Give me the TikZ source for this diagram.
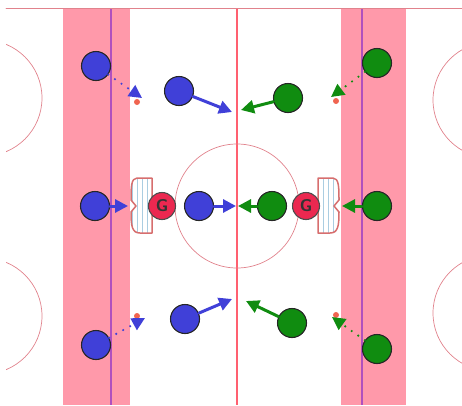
\documentclass[tikz,border=0pt]{standalone}
\usepackage{tikz}
\usetikzlibrary{arrows.meta,positioning}
\definecolor{teamblue}{RGB}{64,64,216}
\definecolor{teamgreen}{RGB}{16,140,16}
\definecolor{rinkpink}{RGB}{255,153,170}
\definecolor{bluelinepurple}{RGB}{176,80,190}
\definecolor{centrered}{RGB}{255,96,112}
\definecolor{goaliered}{RGB}{235,40,80}
\definecolor{faceoffred}{RGB}{225,130,140}
\definecolor{netred}{RGB}{215,110,110}
\definecolor{netgrid}{RGB}{170,205,225}
\definecolor{puckred}{RGB}{240,100,80}
\tikzset{
  every picture/.append style={line cap=round,line join=round},
  blue skater/.style={circle,fill=teamblue,draw=black!85,line width=1.1pt,minimum size=29pt,inner sep=0pt},
  green skater/.style={circle,fill=teamgreen,draw=black!85,line width=1.1pt,minimum size=29pt,inner sep=0pt},
  goalie/.style={circle,fill=goaliered,draw=black!70,line width=1.1pt,minimum size=27pt,inner sep=0pt,
    font=\sffamily\bfseries\fontsize{17}{17}\selectfont,text=black!80},
  blue skate/.style={teamblue,line width=3pt,-{Triangle[length=13pt,width=13pt]}},
  green skate/.style={teamgreen,line width=3pt,-{Triangle[length=13pt,width=13pt]}},
  blue pass/.style={teamblue,line width=2.4pt,dash pattern=on 0pt off 8pt,-{Triangle[length=13pt,width=13pt]}},
  green pass/.style={teamgreen,line width=2.4pt,dash pattern=on 0pt off 8pt,-{Triangle[length=13pt,width=13pt]}},
  faceoff/.style={faceoffred,line width=0.7pt},
  puck/.style={circle,fill=puckred,inner sep=0pt,minimum size=6pt}
}
\newcommand{\hockeynet}{%
  \fill[white] (0,0) -- (-15,0) .. controls (-21,0) and (-21,10) .. (-21,22) -- (-16,28) -- (-21,34)
    .. controls (-21,48) and (-20,55) .. (-12,55) -- (0,55) -- cycle;
  \begin{scope}
    \clip (0,0) -- (-15,0) .. controls (-21,0) and (-21,10) .. (-21,22) -- (-16,28) -- (-21,34)
      .. controls (-21,48) and (-20,55) .. (-12,55) -- (0,55) -- cycle;
    \draw[netgrid,line width=0.6pt,step=5] (-25,-5) grid (5,60);
  \end{scope}
  \draw[netred,line width=1.5pt] (0,0) -- (-15,0) .. controls (-21,0) and (-21,10) .. (-21,22) -- (-16,28) -- (-21,34)
    .. controls (-21,48) and (-20,55) .. (-12,55) -- (0,55) -- cycle;
}
\begin{document}
\begin{tikzpicture}[x=1pt,y=-1pt]
\useasboundingbox (0,0) rectangle (462,405);
% rink markings
\fill[rinkpink] (63,8) rectangle (130,405);
\fill[rinkpink] (341,8) rectangle (406,405);
\draw[bluelinepurple,line width=2.4pt,line cap=butt] (111,8) -- (111,405);
\draw[bluelinepurple,line width=2.4pt,line cap=butt] (362,8) -- (362,405);
\draw[centrered,line width=1.6pt,line cap=butt] (237,8) -- (237,405);
\draw[faceoffred,line width=0.8pt] (6,8) -- (462,8);
\begin{scope}
  \clip (6,8) rectangle (462,405);
  \draw[faceoff] (-16,98) circle (58);
  \draw[faceoff] (-16,316) circle (58);
  \draw[faceoff] (491,100) circle (58);
  \draw[faceoff] (491,313) circle (58);
\end{scope}
\draw[faceoff] (237,206) circle (62);
% nets
\begin{scope}[shift={(152,178)}]
  \hockeynet
\end{scope}
\begin{scope}[shift={(318,178)},xscale=-1]
  \hockeynet
\end{scope}
% pucks
\node[puck] (p1) at (137,102) {};
\node[puck] (p2) at (336,101) {};
\node[puck] (p3) at (137,316) {};
\node[puck] (p4) at (336,315) {};
% players
\node[blue skater] (b1) at (96,66) {};
\node[blue skater] (b2) at (179,91) {};
\node[blue skater] (b3) at (95,206) {};
\node[blue skater] (b4) at (199,206) {};
\node[blue skater] (b5) at (185,319) {};
\node[blue skater] (b6) at (96,345) {};
\node[green skater] (g1) at (377,63) {};
\node[green skater] (g2) at (288,98) {};
\node[green skater] (g3) at (377,206) {};
\node[green skater] (g4) at (272,206) {};
\node[green skater] (g5) at (292,323) {};
\node[green skater] (g6) at (377,349) {};
\node[goalie] (gl) at (162,206) {G};
\node[goalie] (gr) at (306,206) {G};
% arrow ends
\coordinate (b1end) at (142,98);
\coordinate (b2end) at (232,112);
\coordinate (b3end) at (128,206);
\coordinate (b4end) at (236,206);
\coordinate (b5end) at (232,299);
\coordinate (b6end) at (145,318);
\coordinate (g1end) at (331,97);
\coordinate (g2end) at (241,110);
\coordinate (g3end) at (342,206);
\coordinate (g4end) at (238,206);
\coordinate (g5end) at (246,301);
\coordinate (g6end) at (332,317);
% moves
\draw[blue pass] (b1) -- (b1end);
\draw[blue skate] (b2) -- (b2end);
\draw[blue skate] (b3) -- (b3end);
\draw[blue skate] (b4) -- (b4end);
\draw[blue skate] (b5) -- (b5end);
\draw[blue pass] (b6) -- (b6end);
\draw[green pass] (g1) -- (g1end);
\draw[green skate] (g2) -- (g2end);
\draw[green skate] (g3) -- (g3end);
\draw[green skate] (g4) -- (g4end);
\draw[green skate] (g5) -- (g5end);
\draw[green pass] (g6) -- (g6end);
\end{tikzpicture}
\end{document}
